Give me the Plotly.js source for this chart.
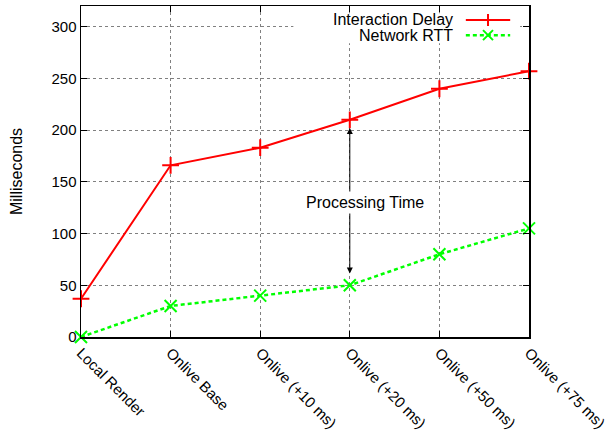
<!DOCTYPE html>
<html>
<head>
<meta charset="utf-8">
<script src="https://cdn.plot.ly/plotly-3.0.1.min.js"></script>
<style>html,body{margin:0;padding:0;background:#fff;}#chart{width:610px;height:435px;}</style>
</head>
<body>
<div id="chart"></div>
<script>
var categories = ["Local Render", "Onlive Base", "Onlive (+10 ms)", "Onlive (+20 ms)", "Onlive (+50 ms)", "Onlive (+75 ms)"];
var interactionDelay = [37, 166, 183, 210, 240, 257];
var networkRTT = [0, 30, 40, 50, 80, 105];
var yTicks = [0, 50, 100, 150, 200, 250, 300];
var seriesNames = ["Interaction Delay", "Network RTT"];
var annotationText = "Processing Time";

var xIdx = categories.map(function (_, i) { return i; });
var FONT = "Liberation Sans, Arial, Helvetica, sans-serif";

var traces = [
  {
    x: xIdx, y: interactionDelay, name: seriesNames[0], type: "scatter", mode: "lines+markers",
    line: {color: "#ff0000", width: 2},
    marker: {symbol: "cross-thin", size: 12, color: "#ff0000", line: {color: "#ff0000", width: 2}},
    showlegend: false, cliponaxis: false
  },
  {
    x: xIdx, y: networkRTT, name: seriesNames[1], type: "scatter", mode: "lines+markers",
    line: {color: "#00ff00", width: 2.5, dash: "4px,3px"},
    marker: {symbol: "x-thin", size: 12, color: "#00ff00", line: {color: "#00ff00", width: 2}},
    showlegend: false, cliponaxis: false
  }
];

// custom gnuplot-style legend (text, then sample)
var legRows = [0.958, 0.912];
var legTextX = 0.835, legS0 = 0.859, legS1 = 0.958, legM = 0.9085;
var shapes = [
  {type: "rect", layer: "between", xref: "x", yref: "y", x0: 2.37, x1: 4.9, y0: 284, y1: 313,
   fillcolor: "#ffffff", line: {width: 0}},
  {type: "line", xref: "paper", yref: "paper", x0: legS0, x1: legS1, y0: legRows[0], y1: legRows[0],
   line: {color: "#ff0000", width: 2}},
  {type: "line", xref: "paper", yref: "paper", x0: legS0, x1: legS1, y0: legRows[1], y1: legRows[1],
   line: {color: "#00ff00", width: 2.5, dash: "4px,3px"}}
];
var annotations = [
  {xref: "paper", yref: "paper", x: legTextX, y: legRows[0], text: seriesNames[0], showarrow: false,
   xanchor: "right", yanchor: "middle", font: {family: FONT, size: 16, color: "#000"}},
  {xref: "paper", yref: "paper", x: legTextX, y: legRows[1], text: seriesNames[1], showarrow: false,
   xanchor: "right", yanchor: "middle", font: {family: FONT, size: 16, color: "#000"}},
  {xref: "x", yref: "y", x: 3, y: 202, ax: 3, ay: 60, axref: "x", ayref: "y", text: "",
   showarrow: true, arrowside: "end+start", arrowhead: 2, arrowsize: 1.2, arrowwidth: 1, arrowcolor: "#000"},
  {xref: "x", yref: "y", x: 3.17, y: 130, text: annotationText, showarrow: false,
   bgcolor: "#ffffff", borderpad: 2, font: {family: FONT, size: 16, color: "#000"}}
];

var layout = {
  width: 610, height: 435,
  margin: {l: 81, r: 81, t: 6, b: 98},
  paper_bgcolor: "#ffffff", plot_bgcolor: "#ffffff",
  font: {family: FONT, size: 15, color: "#000"},
  xaxis: {
    range: [0, 5], tickmode: "array", tickvals: xIdx, ticktext: categories, tickangle: 45,
    showgrid: true, gridcolor: "#808080", griddash: "dot", gridwidth: 1,
    showline: true, linecolor: "#000", linewidth: 1.5, mirror: "allticks",
    ticks: "inside", ticklen: 6, tickcolor: "#000", zeroline: false,
    tickfont: {family: FONT, size: 15, color: "#000"}
  },
  yaxis: {
    range: [0, 320], tickmode: "array", tickvals: yTicks,
    showgrid: true, gridcolor: "#808080", griddash: "dot", gridwidth: 1,
    showline: true, linecolor: "#000", linewidth: 1.5, mirror: "allticks",
    ticks: "inside", ticklen: 6, tickcolor: "#000", zeroline: false,
    tickfont: {family: FONT, size: 15, color: "#000"},
    title: {text: "Milliseconds", standoff: 25, font: {family: FONT, size: 16, color: "#000"}}
  },
  shapes: shapes,
  annotations: annotations,
  showlegend: false
};

Plotly.newPlot("chart", traces, layout, {displayModeBar: false, staticPlot: true}).then(function (gd) {
  // legend sample markers positioned via the paper coordinates of the legend rows
  var fl = gd._fullLayout, xa = fl.xaxis, ya = fl.yaxis;
  var px = fl.margin.l + legM * xa._length;
  var svg = gd.querySelector(".infolayer");
  var ns = "http://www.w3.org/2000/svg";
  [[legRows[0], "M-6,0H6M0,-6V6", "#ff0000"], [legRows[1], "M-5,-5L5,5M-5,5L5,-5", "#00ff00"]].forEach(function (r) {
    var py = fl.margin.t + (1 - r[0]) * ya._length;
    var p = document.createElementNS(ns, "path");
    p.setAttribute("d", r[1]);
    p.setAttribute("transform", "translate(" + px + "," + py + ")");
    p.setAttribute("stroke", r[2]);
    p.setAttribute("stroke-width", "2");
    p.setAttribute("fill", "none");
    svg.appendChild(p);
  });
});
</script>
</body>
</html>
